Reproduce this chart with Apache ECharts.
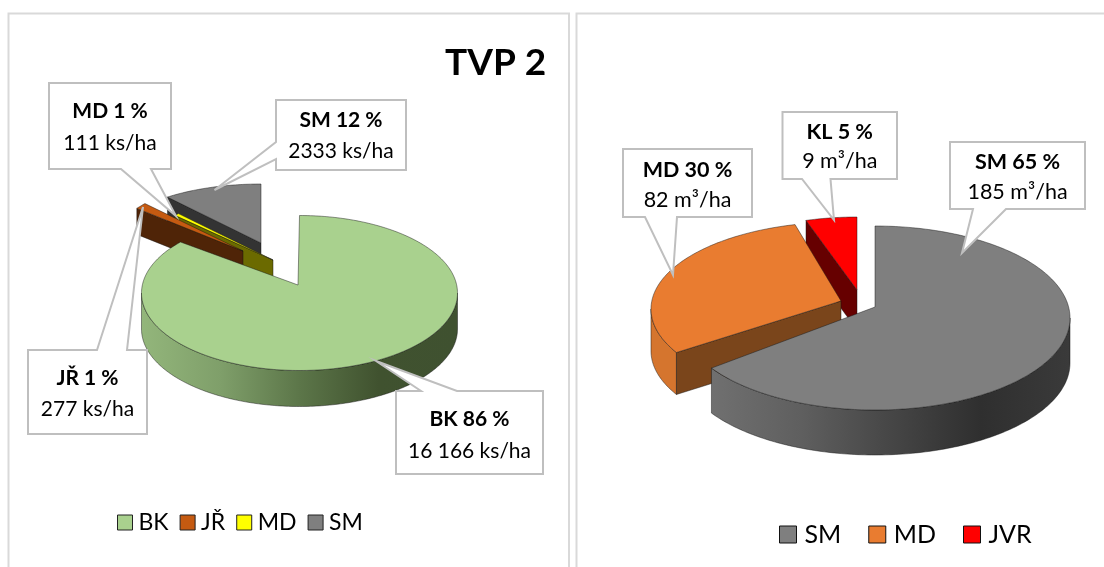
<!DOCTYPE html>
<html><head><meta charset="utf-8">
<style>html,body{margin:0;padding:0;background:#fff}#c{width:1104px;height:567px}</style>
<script src="https://cdn.jsdelivr.net/npm/echarts@6/dist/echarts.min.js"></script>
</head><body><div id="c"></div>
<script>
// DATA
const leftCategories = ['BK', 'JŘ', 'MD', 'SM'];
const leftPercent = [86, 1, 1, 12];
const leftDensity = [16166, 277, 111, 2333];
const leftDensityText = ['16 166 ks/ha', '277 ks/ha', '111 ks/ha', '2333 ks/ha'];
const rightCategories = ['SM', 'MD', 'JVR'];
const rightLabelNames = ['SM', 'MD', 'KL'];
const rightPercent = [65, 30, 5];
const rightDensityText = ['185 m³/ha', '82 m³/ha', '9 m³/ha'];
const chartTitle = 'TVP 2';

// LAYOUT: 3D look of each slice (ellipse, apex, extrusion, perspective angle correction)
const leftLook = [
  {color:'#a9d18e', cx:299.5, cy:293, rx:158, ry:77.5, ax:298, ay:285, depth:36, d0:0, d1:3,
   wall:['#93b67b','#7f9f6a','#5c7649','#40522f','#3f5130']},
  {color:'#c55a11', cx:243, cy:251, rx:135, ry:69, ax:243, ay:251, depth:26, d0:0, d1:0, cut:'#4f2407'},
  {color:'#ffff00', cx:273, cy:260, rx:135, ry:65, ax:273, ay:260, depth:26, d0:0, d1:0, cut:'#6b6a00'},
  {color:'#7f7f7f', cx:261, cy:243, rx:149, ry:59, ax:261, ay:243, depth:26, d0:5.6, d1:0, cut:'#333333'}
];
const rightLook = [
  {color:'#7f7f7f', cx:875, cy:318, rx:195, ry:92, ax:875, ay:307, depth:45, d0:0, d1:3,
   wall:['#707070','#5f5f5f','#464646','#2f2f2f','#3a3a3a']},
  {color:'#e97c30', cx:841, cy:309, rx:190, ry:87, ax:841, ay:301, depth:42, d0:6, d1:4, cut:'#7a451b', wallPlain:'#d5752e'},
  {color:'#ff0000', cx:857, cy:287, rx:165, ry:70, ax:857, ay:290, depth:40, d0:0, d1:0, cut:'#660000'}
];
const leftCallouts = [
  {box:[396,391,543,474], side:'top', base:[421,457], tip:[376,361], ty:[419,451]},
  {box:[28,350,147,434], side:'top', base:[97,127], tip:[143,207], ty:[378,409]},
  {box:[49,83,171,169], side:'bottom', base:[121,151], tip:[176,216], ty:[111,143]},
  {box:[276,100,406,170], side:'left', base:[142,159], tip:[214.5,190], ty:[120,151]}
];
const rightCallouts = [
  {box:[950,142,1085,209], side:'bottom', base:[973,1006], tip:[962,253], ty:[162,192]},
  {box:[623,149,752,217], side:'bottom', base:[645,677], tip:[673,275], ty:[170,200]},
  {box:[782.5,112,897,179], side:'bottom', base:[802,830.5], tip:[834,220], ty:[132,161]}
];

function spans(values) {
  const total = values.reduce((a, b) => a + b, 0);
  let run = 0;
  return values.map(v => { const s = run / total * 360; run += v; return [s, run / total * 360]; });
}
function pt(l, deg, dz) {
  const r = deg * Math.PI / 180;
  return [l.cx + l.rx * Math.sin(r), l.cy - l.ry * Math.cos(r) + (dz || 0)];
}
function arc(l, a, b, dz) {
  const out = [], n = Math.max(2, Math.ceil(Math.abs(b - a)));
  for (let i = 0; i <= n; i++) out.push(pt(l, a + (b - a) * i / n, dz));
  return out;
}
const edge = {stroke:'rgba(20,20,20,0.65)', lineWidth:0.7};

function sliceRender(look) {
  return function (params, api) {
    const a0 = api.value(0) + look.d0, a1 = api.value(1) + look.d1;
    const children = [];
    // outer wall
    const wa = Math.max(a0, 90), wb = Math.min(a1, 270);
    if (look.depth && wb > wa && (look.wall || look.wallPlain)) {
      const top = arc(look, wa, wb, 0), bot = arc(look, wb, wa, look.depth);
      const fill = look.wall
        ? new echarts.graphic.LinearGradient(0, 0, 1, 0, look.wall.map((c, i) => ({offset: i / (look.wall.length - 1), color: c})))
        : look.wallPlain;
      children.push({type:'polygon', shape:{points: top.concat(bot)}, style:Object.assign({fill}, edge)});
    }
    // cut face along the starting edge
    if (look.cut) {
      const p = pt(look, a0);
      children.push({type:'polygon', shape:{points:[[look.ax, look.ay], p, [p[0], p[1] + look.depth], [look.ax, look.ay + look.depth]]},
        style:Object.assign({fill:look.cut}, edge)});
    }
    // top face
    children.push({type:'polygon', shape:{points: [[look.ax, look.ay]].concat(arc(look, a0, a1, 0))},
      style:Object.assign({fill:look.color}, edge)});
    return {type:'group', children};
  };
}
function sliceSeries(name, span, look) {
  return {type:'custom', name, coordinateSystem:'none', silent:true, animation:false,
    itemStyle:{color:look.color}, data:[span], renderItem:sliceRender(look)};
}
function calloutPath(c) {
  const [x0, y0, x1, y1] = c.box, [p, q] = c.base, t = c.tip;
  if (c.side === 'top') return [[x0,y0],[p,y0],t,[q,y0],[x1,y0],[x1,y1],[x0,y1]];
  if (c.side === 'bottom') return [[x0,y0],[x1,y0],[x1,y1],[q,y1],t,[p,y1],[x0,y1]];
  return [[x0,y0],[x1,y0],[x1,y1],[x0,y1],[x0,q],t,[x0,p]];
}
function calloutSeries(layout, heads, lines, size) {
  return {type:'custom', name:'callouts', coordinateSystem:'none', silent:true, animation:false, z:5,
    data: layout.map((c, i) => [i]),
    renderItem(params, api) {
      const i = api.value(0), c = layout[i], mx = (c.box[0] + c.box[2]) / 2;
      return {type:'group', children:[
        {type:'polygon', shape:{points:calloutPath(c)}, style:{fill:'#fff', stroke:'#bfbfbf', lineWidth:2}},
        {type:'text', style:{text:heads[i], x:mx, y:c.ty[0], textAlign:'center', textVerticalAlign:'middle', font:'bold ' + size + 'px Lato', fill:'#000'}},
        {type:'text', style:{text:lines[i], x:mx, y:c.ty[1], textAlign:'center', textVerticalAlign:'middle', font:size + 'px Lato', fill:'#000'}}
      ]};
    }};
}
const leftSpans = spans(leftDensity), rightSpans = spans(rightPercent);
const series = [];
[3, 2, 1, 0].forEach(i => series.push(sliceSeries(leftCategories[i], leftSpans[i], leftLook[i])));
[2, 1, 0].forEach(i => series.push(sliceSeries(rightCategories[i], rightSpans[i], rightLook[i])));
series.push(calloutSeries(leftCallouts, leftCategories.map((n, i) => n + ' ' + leftPercent[i] + ' %'), leftDensityText, 21));
series.push(calloutSeries(rightCallouts, rightLabelNames.map((n, i) => n + ' ' + rightPercent[i] + ' %'), rightDensityText, 21.5));

const chart = echarts.init(document.getElementById('c'), null, {renderer:'canvas'});
chart.setOption({
  backgroundColor:'#fff',
  animation:false,
  title:{text:chartTitle, left:445, top:45, padding:0, textStyle:{fontFamily:'Lato', fontWeight:'bold', fontSize:37, color:'#000'}},
  legend:[
    {left:117, top:511, padding:0, orient:'horizontal', icon:'rect', itemWidth:15, itemHeight:15, itemGap:11, selectedMode:false,
     textStyle:{fontFamily:'Lato', fontSize:23, color:'#000', padding:[0,0,0,1]},
     data:leftCategories.map((n, i) => ({name:n, icon:'rect', itemStyle:{color:leftLook[i].color, borderColor:'#222', borderWidth:1}}))},
    {left:779, top:522, padding:0, orient:'horizontal', icon:'rect', itemWidth:17, itemHeight:17, itemGap:27, selectedMode:false,
     textStyle:{fontFamily:'Lato', fontSize:25, color:'#000', padding:[0,0,0,3]},
     data:rightCategories.map((n, i) => ({name:n, icon:'rect', itemStyle:{color:rightLook[i].color, borderColor:'#111', borderWidth:1}}))}
  ],
  graphic:[
    {type:'rect', shape:{x:8.5, y:13.5, width:560.5, height:600}, style:{fill:'#fff', stroke:'#d9d9d9', lineWidth:2}, silent:true, z:0},
    {type:'rect', shape:{x:576.5, y:13.5, width:600, height:600}, style:{fill:'#fff', stroke:'#d9d9d9', lineWidth:2}, silent:true, z:0}
  ],
  series
});
</script></body></html>
